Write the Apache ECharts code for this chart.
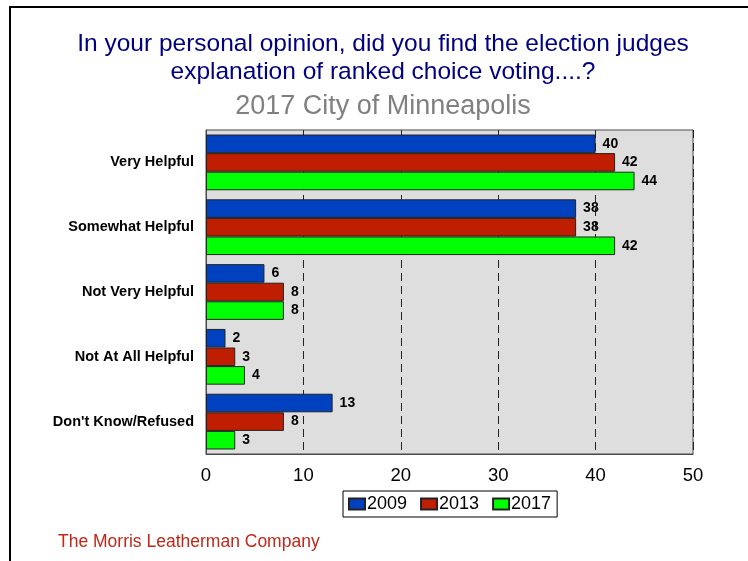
<!DOCTYPE html>
<html>
<head>
<meta charset="utf-8">
<script src="https://cdn.jsdelivr.net/npm/echarts@6/dist/echarts.min.js"></script>
<style>
  html, body { margin: 0; padding: 0; background: #fff; }
  #chart { width: 748px; height: 561px; }
</style>
</head>
<body>
<div id="chart"></div>
<script>
// Survey responses, percent of respondents by year
const categories = ['Very Helpful', 'Somewhat Helpful', 'Not Very Helpful', 'Not At All Helpful', "Don't Know/Refused"];
const years = ['2009', '2013', '2017'];
const values2009 = [40, 38, 6, 2, 13];
const values2013 = [42, 38, 8, 3, 8];
const values2017 = [44, 42, 8, 4, 3];
const xTicks = { min: 0, max: 50, interval: 10 };

const FONT = '"Liberation Sans", Arial, Helvetica, sans-serif';
const colors = ['#0041C0', '#C01E00', '#00FF00'];
const seriesValues = [values2009, values2013, values2017];

const chart = echarts.init(document.getElementById('chart'), null, { renderer: 'canvas' });

chart.setOption({
  animation: false,
  backgroundColor: '#ffffff',
  textStyle: { fontFamily: FONT },
  title: [
    {
      text: 'In your personal opinion, did you find the election judges\nexplanation of ranked choice voting....?',
      left: 383,
      top: 30,
      padding: 0,
      textAlign: 'center',
      textStyle: { fontFamily: FONT, fontSize: 24.5, fontWeight: 'normal', color: '#000080', lineHeight: 28 }
    },
    {
      text: '2017 City of Minneapolis',
      left: 383,
      top: 92,
      padding: 0,
      textAlign: 'center',
      textStyle: { fontFamily: FONT, fontSize: 27, fontWeight: 'normal', color: '#808080', lineHeight: 30 }
    },
    {
      text: 'The Morris Leatherman Company',
      left: 58,
      top: 532,
      padding: 0,
      textStyle: { fontFamily: FONT, fontSize: 17.5, fontWeight: 'normal', color: '#C0281A', lineHeight: 20 }
    }
  ],
  graphic: [
    {
      type: 'rect',
      silent: true,
      shape: { x: 10, y: 7, width: 800, height: 600 },
      style: { fill: null, stroke: '#000', lineWidth: 2 }
    }
  ],
  legend: {
    data: years,
    left: 343,
    top: 491,
    orient: 'horizontal',
    itemWidth: 16,
    itemHeight: 11,
    itemGap: 13,
    padding: [4, 6, 4, 5],
    borderColor: '#000',
    borderWidth: 1,
    backgroundColor: '#fff',
    icon: 'rect',
    textStyle: { fontFamily: FONT, fontSize: 18, color: '#000', padding: [0, 0, 0, -3] }
  },
  grid: {
    left: 206,
    top: 130,
    width: 487,
    height: 324,
    show: true,
    backgroundColor: '#DEDEDE',
    borderColor: '#4A4A4A',
    borderWidth: 1,
    containLabel: false
  },
  xAxis: {
    type: 'value',
    min: xTicks.min,
    max: xTicks.max,
    interval: xTicks.interval,
    axisLine: { show: true, lineStyle: { color: '#4A4A4A', width: 1 } },
    axisTick: { show: false },
    axisLabel: { fontFamily: FONT, fontSize: 18.5, color: '#000', margin: 12 },
    splitLine: { show: true, lineStyle: { color: '#222', type: [8, 5], width: 1 } }
  },
  yAxis: {
    type: 'category',
    data: categories,
    inverse: true,
    axisLine: { show: true, lineStyle: { color: '#4A4A4A', width: 1 } },
    axisTick: { show: false },
    axisLabel: { fontFamily: FONT, fontSize: 14.5, fontWeight: 'bold', color: '#000', margin: 12 }
  },
  series: years.map((y, i) => ({
    name: y,
    type: 'bar',
    data: seriesValues[i],
    barGap: '0%',
    barCategoryGap: '14%',
    itemStyle: { color: colors[i], borderColor: '#222', borderWidth: 1 },
    label: {
      show: true,
      position: 'right',
      distance: 7,
      fontFamily: FONT,
      fontSize: 14,
      fontWeight: 'bold',
      color: '#000'
    }
  }))
});
</script>
</body>
</html>
